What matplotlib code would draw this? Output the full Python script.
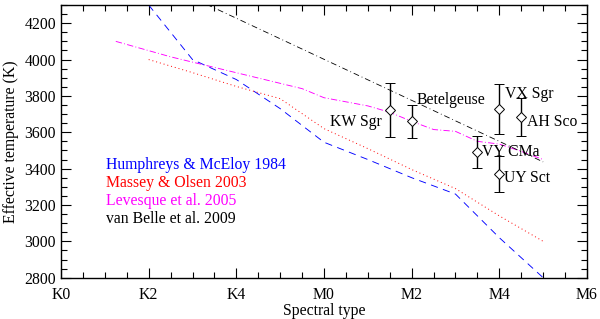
import matplotlib
matplotlib.use("Agg")
import matplotlib.pyplot as plt
from matplotlib.ticker import MultipleLocator

plt.rcParams['font.family'] = ['Liberation Serif', 'DejaVu Serif']
plt.rcParams['mathtext.fontset'] = 'stix'

# Spectral type axis: K0=0 ... K5=5, M0=6 ... M6=12
tick_pos = [0, 2, 4, 6, 8, 10, 12]
tick_labels = ["K0", "K2", "K4", "M0", "M2", "M4", "M6"]

# Humphreys & McElroy 1984
hm_x = [2, 3, 4, 5, 6, 7, 8, 9, 10, 11]
hm_T = [4300, 4000, 3890, 3730, 3545, 3450, 3350, 3260, 3020, 2800]

# Massey & Olsen 2003
mo_x = [2, 3, 4, 5, 6, 7, 8, 9, 10, 11]
mo_T = [4000, 3928, 3852, 3785, 3620, 3510, 3395, 3290, 3140, 3000]

# Levesque et al. 2005
lv_x = [1.25, 2.5, 5.5, 6, 7, 7.5, 8, 8.5, 9, 9.5, 10, 10.5, 11]
lv_T = [4100, 4015, 3840, 3790, 3745, 3710, 3660, 3615, 3605, 3550, 3535, 3495, 3450]

# van Belle et al. 2009
vb_x = [3, 11]
vb_T = [4340, 3437]

# Stars
star_names = ["KW Sgr", "Betelgeuse", "VX Sgr", "AH Sco", "VY CMa", "UY Sct"]
star_x = [7.5, 8.0, 10.0, 10.5, 9.5, 10.0]
star_T = [3722, 3660, 3728, 3684, 3492, 3370]
star_err = [148, 92, 140, 104, 88, 98]

fig = plt.figure(figsize=(6.0, 3.19), dpi=100)
ax = fig.add_axes([0.1017, 0.1295, 0.8766, 0.8548])

ax.plot(hm_x, hm_T, color='blue', ls=(0, (8, 6)), lw=0.65)
ax.plot(mo_x, mo_T, color='red', ls=(0, (1, 3)), lw=0.7)
ax.plot(lv_x, lv_T, color='magenta', ls=(0, (7, 2.5, 1, 2.5)), lw=0.65)
ax.plot(vb_x, vb_T, color='black', ls=(0, (7, 3.5, 1, 3.5)), lw=0.6)

ax.errorbar(star_x, star_T, yerr=star_err, fmt='D', mfc='white', mec='black',
            mew=0.7, ms=5, ecolor='black', elinewidth=1.0, capsize=3.5, capthick=1.0,
            color='black', zorder=5)

fs = 11.3
label_pos = {
    "KW Sgr": (7.31, 3657, 'right'),
    "Betelgeuse": (8.11, 3775, 'left'),
    "VX Sgr": (10.14, 3812, 'left'),
    "AH Sco": (10.64, 3657, 'left'),
    "VY CMa": (9.6, 3493, 'left'),
    "UY Sct": (10.11, 3348, 'left'),
}
for n in star_names:
    lx, ly, ha = label_pos[n]
    ax.text(lx, ly, n, ha=ha, va='center', fontsize=fs, color='black', zorder=6)

legend_items = [("Humphreys & McEloy 1984", 'blue'),
                ("Massey & Olsen 2003", 'red'),
                ("Levesque et al. 2005", 'magenta'),
                ("van Belle et al. 2009", 'black')]
for i, (txt, c) in enumerate(legend_items):
    ax.text(0.085, 0.415 - i * 0.066, txt, transform=ax.transAxes, color=c,
            fontsize=fs, ha='left', va='center')

ax.set_xlim(0, 12)
ax.set_ylim(2800, 4300)
ax.set_xticks(tick_pos)
ax.set_xticklabels(tick_labels)
ax.xaxis.set_minor_locator(MultipleLocator(0.5))
ax.set_yticks([2800, 3000, 3200, 3400, 3600, 3800, 4000, 4200])
ax.yaxis.set_minor_locator(MultipleLocator(50))
ax.tick_params(which='both', direction='in', top=True, right=True, labelsize=fs)
ax.tick_params(which='major', length=7, width=0.8)
ax.tick_params(which='minor', length=4, width=0.8)
ax.tick_params(axis='x', pad=7)
for s in ax.spines.values():
    s.set_linewidth(1.0)

ax.set_xlabel("Spectral type", fontsize=fs, labelpad=0)
ax.set_ylabel("Effective temperature (K)", fontsize=fs, labelpad=4)

fig.savefig("out.png", dpi=100)
